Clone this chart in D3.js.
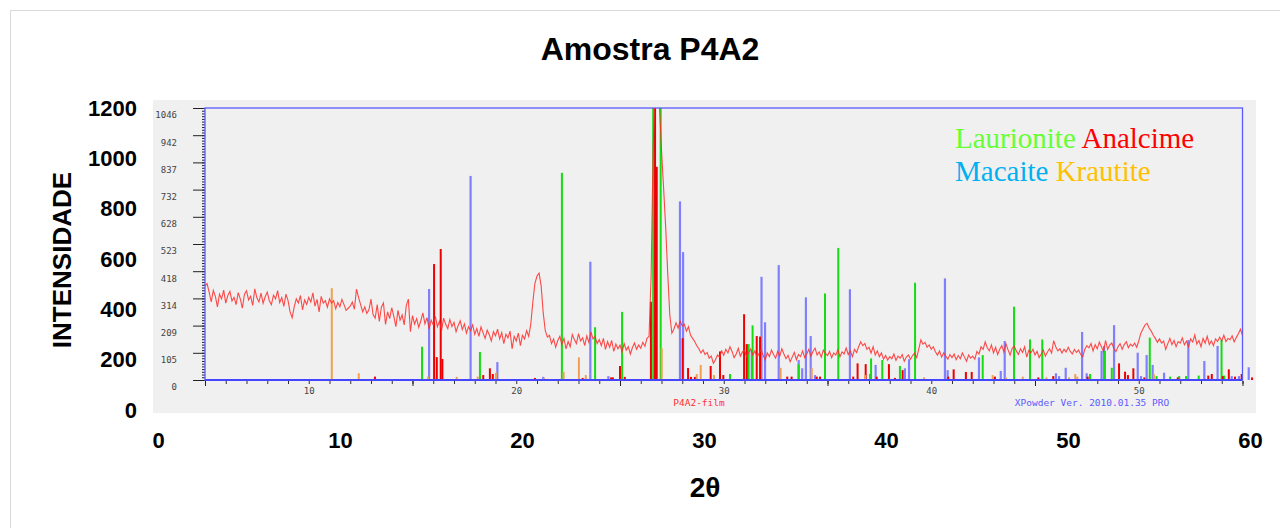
<!DOCTYPE html>
<html><head><meta charset="utf-8">
<script src="https://cdn.jsdelivr.net/npm/d3@7"></script>
<style>body{margin:0;background:#fff}svg{display:block}</style>
</head><body><svg id="c" width="1280" height="528"></svg>
<script>
// ---------- data ----------
const chartTitle = "Amostra P4A2";
const outerXTicks = [0, 10, 20, 30, 40, 50, 60];
const outerYTicks = [0, 200, 400, 600, 800, 1000, 1200];
const innerYMax = 1046.3;
const innerYTickLabels = ["0","105","209","314","418","523","628","732","837","942","1046"];
const innerXLabels = [10, 20, 30, 40, 50];
const scanStart = 5.0, scanStep = 0.1;
const intensity = [
362,371,338,300,345,322,281,330,312,346,
296,325,341,304,318,290,336,312,276,329,
343,308,322,287,351,316,300,334,295,320,
338,305,290,326,312,344,298,317,283,330,
306,262,240,281,312,296,325,270,308,291,
318,300,335,284,310,262,322,296,305,280,
312,296,305,274,298,282,310,290,268,276,
284,300,272,350,318,290,262,281,256,270,
311,252,238,290,225,280,296,214,262,236,
278,245,205,268,230,250,212,286,311,186,
248,215,236,202,228,258,216,240,196,230,
212,245,205,226,190,238,214,198,232,206,
222,186,210,228,194,216,180,205,190,212,
176,198,168,204,182,160,192,174,150,186,
170,196,158,182,140,176,162,188,120,168,
150,180,132,172,158,190,168,215,300,372,
400,411,362,258,190,165,172,140,158,126,
152,168,136,160,120,148,128,175,156,140,
178,150,162,132,170,145,185,158,167,140,
155,132,160,118,148,126,152,110,138,120,
134,108,140,115,128,100,125,142,118,135,
122,145,130,160,168,400,900,1150,1150,1060,
885,740,590,411,250,180,196,220,200,226,
208,215,188,205,172,160,148,132,120,104,
116,98,106,84,92,64,78,96,88,112,
95,118,104,128,110,86,100,122,92,108,
115,90,105,120,96,112,88,102,118,94,
77,104,90,115,98,84,110,92,120,100,
82,95,70,88,106,78,98,90,112,86,
100,118,92,110,123,96,108,88,115,102,
94,110,86,104,96,116,90,108,100,123,
98,112,90,118,106,128,147,132,140,118,
126,104,128,96,112,90,104,80,94,77,
90,82,100,76,92,84,98,72,88,96,
80,94,104,86,120,154,138,145,126,135,
118,128,109,96,112,88,104,92,80,98,
86,100,78,94,82,104,88,72,96,84,
92,80,110,100,128,118,147,124,112,135,
104,126,98,118,132,108,140,116,96,122,
130,112,98,120,106,128,88,114,104,118,
96,110,86,100,115,92,108,120,104,151,
128,112,120,104,118,108,126,110,100,118,
106,115,98,90,118,132,124,140,112,136,
120,146,128,110,152,118,134,142,122,109,
128,140,118,136,147,124,138,130,142,126,
150,180,196,211,218,200,188,172,160,145,
158,142,150,118,140,160,136,152,128,148,
142,162,135,150,128,158,146,173,138,152,
128,160,142,168,136,150,132,158,148,165,
150,172,148,160,155,170,147,163,178,195,
172];

const macaiteAngles = [15.80,17.80,19.09,21.30,23.57,24.44,26.64,27.89,28.04,31.35,31.82,31.99,32.65,33.61,33.78,33.96,34.19,34.40,36.08,37.05,37.32,38.73,38.93,40.66,40.79,42.30,43.35,43.54,46.01,46.16,46.48,47.27,47.49,48.21,48.33,48.81,49.95,50.11,50.38,50.67,51.22,52.39,53.16,53.80,54.48,54.83,55.30];
const macaiteInt    = [350,785,69,12,455,15,1046,687,492,115,397,222,442,77,45,318,169,19,349,23,58,45,80,391,38,87,35,150,26,15,47,185,26,112,131,211,105,15,96,58,28,154,73,131,15,15,49];

const laurioniteAngles = [15.46,18.25,22.20,23.80,25.10,26.60,26.96,30.30,31.20,31.39,33.61,34.88,35.52,37.10,37.64,38.49,39.22,42.48,43.99,44.76,45.35,47.65,48.37,48.70,50.53,50.86,51.51,51.95,52.28,52.89,53.99,54.12];
const laurioniteInt    = [128,108,797,203,262,1046,1046,23,138,210,60,333,508,83,77,54,374,96,282,156,156,23,112,47,163,15,13,15,15,17,154,17];

const analcimeAngles = [13.19,16.04,16.17,16.36,16.44,18.41,18.73,18.87,20.90,23.20,24.57,24.66,25.00,25.23,26.49,26.69,26.77,28.02,28.28,28.42,28.61,29.37,29.82,29.98,30.98,31.11,31.59,31.75,33.06,33.27,34.48,34.64,36.24,36.45,36.84,37.37,37.96,38.25,38.62,40.82,41.08,41.67,41.95,43.07,45.16,45.88,47.54,49.05,49.34,49.48,49.74,50.27,51.88,53.35,53.52,54.05,54.34,54.64,54.96,55.46];
const analcimeInt    = [13,446,88,504,81,19,45,23,8,8,10,10,54,12,301,1046,820,161,46,12,12,54,110,19,253,138,169,167,13,13,13,13,13,64,61,13,61,8,38,13,41,31,31,13,10,15,13,64,32,19,45,10,10,17,23,15,41,13,23,10];

const krautiteAngles = [11.11,12.41,15.75,17.13,18.14,19.02,21.34,22.28,23.02,23.35,25.93,27.01,28.70,28.89,29.53,32.74,34.24,36.81,39.65,42.96,43.60,44.41,45.55,46.64,46.94,47.04,50.73];
const krautiteInt    = [353,26,13,12,13,28,8,32,87,19,4,122,23,58,19,47,47,19,10,19,10,13,10,10,23,13,23];

const legendRow1 = [{t:"Laurionite", c:"#66ff33"}, {t:"Analcime", c:"#ff0000"}];
const legendRow2 = [{t:"Macaite", c:"#00b0f0"}, {t:"Krautite", c:"#ffc000"}];

// ---------- drawing ----------
const svg = d3.select("#c");
const FONT = "'Liberation Sans', Arial, sans-serif";
const MONO = "'DejaVu Sans Mono', 'Liberation Mono', monospace";

svg.append("rect").attr("x",10.5).attr("y",10.5).attr("width",1290).attr("height",540)
  .attr("fill","#fff").attr("stroke","#d9d9d9").attr("stroke-width",1);

svg.append("text").attr("x",650).attr("y",60).attr("text-anchor","middle")
  .attr("font-family",FONT).attr("font-weight","bold").attr("font-size",32).attr("fill","#000")
  .text(chartTitle);

// outer (Excel) scales
const xOut = d3.scaleLinear().domain([0,60]).range([158,1250]);
const yOut = d3.scaleLinear().domain([0,1200]).range([410,108]);

// embedded diffractogram picture background
svg.append("rect").attr("x",153).attr("y",100).attr("width",1103).attr("height",313).attr("fill","#f0f0f0");

// inner scales
const xIn = d3.scaleLinear().domain([5,55]).range([205,1242.5]);
const yIn = d3.scaleLinear().domain([0,innerYMax]).range([380,108]);

const inner = svg.append("g");
svg.append("defs").append("clipPath").attr("id","fr").append("rect")
  .attr("x",205).attr("y",108).attr("width",1037.5).attr("height",272);

// inner left axis: minor and major ticks
const minorVals = d3.range(0,101).map(i => innerYMax*i/100);
const majorVals = d3.range(0,11).map(i => innerYMax*i/10);
const gMinor = inner.append("g").attr("transform","translate(205,0)")
  .call(d3.axisLeft(yIn).tickValues(minorVals).tickSize(3).tickFormat(""));
gMinor.select(".domain").remove();
gMinor.selectAll("line").attr("stroke","#222");
const gMajor = inner.append("g").attr("transform","translate(205,0)")
  .call(d3.axisLeft(yIn).tickValues(majorVals).tickSize(12).tickPadding(16).tickFormat((d,i)=>innerYTickLabels[i]));
gMajor.select(".domain").remove();
gMajor.selectAll("line").attr("stroke","#222");
gMajor.selectAll("text").attr("y",7).attr("font-family",MONO).attr("font-size",9).attr("fill","#444");

// inner bottom axis ticks
const gxMinor = inner.append("g").attr("transform","translate(0,381)")
  .call(d3.axisBottom(xIn).tickValues(d3.range(5,56)).tickSize(3).tickFormat(""));
gxMinor.select(".domain").remove();
gxMinor.selectAll("line").attr("stroke","#333");
const gxMajor = inner.append("g").attr("transform","translate(0,381)")
  .call(d3.axisBottom(xIn).tickValues([5,15,25,35,45,55]).tickSize(5).tickFormat(""));
gxMajor.select(".domain").remove();
gxMajor.selectAll("line").attr("stroke","#222");
const gxLab = inner.append("g").attr("transform","translate(0,381)")
  .call(d3.axisBottom(xIn).tickValues(innerXLabels).tickSize(0).tickPadding(7).tickFormat(d3.format("d")));
gxLab.select(".domain").remove();
gxLab.selectAll("text").attr("font-family",MONO).attr("font-size",9).attr("fill","#444");

// sticks
function sticks(angles, ints, color, width, op) {
  inner.append("g").selectAll("line").data(angles).join("line")
    .attr("x1",d=>xIn(d)).attr("x2",d=>xIn(d))
    .attr("y1",yIn(0)).attr("y2",(d,i)=>yIn(Math.min(ints[i],innerYMax)))
    .attr("stroke",color).attr("stroke-width",width).attr("opacity",op);
}
sticks(macaiteAngles, macaiteInt, "#7b7bff", 2.2, 0.95);
sticks(laurioniteAngles, laurioniteInt, "#11dd11", 2, 1);
sticks(analcimeAngles, analcimeInt, "#ee0000", 2, 1);
sticks(krautiteAngles, krautiteInt, "#f0a050", 2, 1);

// frame
inner.append("rect").attr("x",205).attr("y",108).attr("width",1037.5).attr("height",272)
  .attr("fill","none").attr("stroke","#5a5aff").attr("stroke-width",1.3);
inner.append("line").attr("x1",205).attr("x2",1242.5).attr("y1",380).attr("y2",380)
  .attr("stroke","#4646ff").attr("stroke-width",2);

// diffractogram
const line = d3.line().x((d,i)=>xIn(scanStart + i*scanStep)).y(d=>yIn(d));
inner.append("path").datum(intensity).attr("d",line).attr("clip-path","url(#fr)")
  .attr("fill","none").attr("stroke","#ff2a2a").attr("stroke-width",1.1).attr("opacity",0.85);

// captions inside picture
inner.append("text").attr("x",699).attr("y",406).attr("text-anchor","middle")
  .attr("font-family",MONO).attr("font-size",9.5).attr("fill","#ff3030").text("P4A2-film");
inner.append("text").attr("x",1092).attr("y",406).attr("text-anchor","middle")
  .attr("font-family",MONO).attr("font-size",9.5).attr("fill","#5a5aff").text("XPowder Ver. 2010.01.35 PRO");

// legend
function legendRow(row, y) {
  const t = svg.append("text").attr("x",955).attr("y",y)
    .attr("font-family","'Liberation Serif', 'Times New Roman', serif").attr("font-size",29);
  row.forEach((r,i)=>{ t.append("tspan").attr("fill",r.c).text((i?" ":"")+r.t); });
}
legendRow(legendRow1, 148);
legendRow(legendRow2, 181);

// outer axes (Excel)
const gy = svg.append("g").attr("transform","translate(145,0)")
  .call(d3.axisLeft(yOut).tickValues(outerYTicks).tickSize(0).tickPadding(8).tickFormat(d3.format("d")));
gy.select(".domain").remove();
gy.selectAll("text").attr("font-family",FONT).attr("font-weight","bold").attr("font-size",22).attr("fill","#000");
const gx = svg.append("g").attr("transform","translate(0,425)")
  .call(d3.axisBottom(xOut).tickValues(outerXTicks).tickSize(0).tickPadding(7).tickFormat(d3.format("d")));
gx.select(".domain").remove();
gx.selectAll("text").attr("font-family",FONT).attr("font-weight","bold").attr("font-size",22).attr("fill","#000");

svg.append("text").attr("transform","translate(71,260) rotate(-90)").attr("text-anchor","middle")
  .attr("font-family",FONT).attr("font-weight","bold").attr("font-size",26).attr("fill","#000").text("INTENSIDADE");
svg.append("text").attr("x",705).attr("y",497).attr("text-anchor","middle")
  .attr("font-family",FONT).attr("font-weight","bold").attr("font-size",28).attr("fill","#000").text("2θ");
</script></body></html>
